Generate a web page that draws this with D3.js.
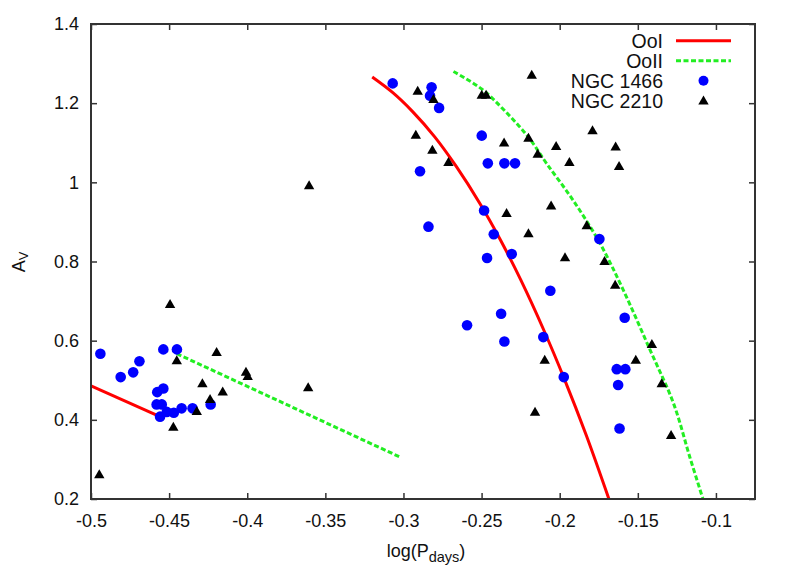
<!DOCTYPE html>
<meta charset="utf-8">
<style>
 body { margin: 0; background: #fff; }
 text { font-family: "Liberation Sans", Arial, sans-serif; fill: #111; }
 .axis path { display: none; }
 .axis line { stroke: #333; stroke-width: 1.5px; }
 .axis text { font-size: 18px; fill: #111; }
 .frame { fill: none; stroke: #333; stroke-width: 2px; }
 .ooI { fill: none; stroke: #ff0000; stroke-width: 3px; }
 .ooII { fill: none; stroke: #22ee22; stroke-width: 3px; stroke-dasharray: 5,2.5; }
</style>
<body>
<script src="https://d3js.org/d3.v7.min.js"></script>
<script>
 // ---- data ----
 // NGC 1466 (blue circles): [logP, A_V]
 var ngc1466 = [
   [-0.494, 0.567], [-0.481, 0.508], [-0.473, 0.520], [-0.469, 0.548],
   [-0.4537, 0.578], [-0.445, 0.578], [-0.4576, 0.470], [-0.4537, 0.479],
   [-0.458, 0.439], [-0.4547, 0.439], [-0.4558, 0.408], [-0.4515, 0.420],
   [-0.447, 0.418], [-0.442, 0.429], [-0.435, 0.429], [-0.4234, 0.439],
   [-0.3069, 1.250], [-0.282, 1.240], [-0.283, 1.219], [-0.2772, 1.188],
   [-0.2894, 1.028], [-0.2499, 1.118], [-0.246, 1.048], [-0.2354, 1.048],
   [-0.2286, 1.048], [-0.2484, 0.929], [-0.284, 0.888], [-0.2422, 0.869],
   [-0.2465, 0.809], [-0.2307, 0.819], [-0.206, 0.726], [-0.2375, 0.668],
   [-0.2593, 0.639], [-0.2354, 0.598], [-0.2105, 0.609], [-0.1974, 0.508],
   [-0.1746, 0.857], [-0.1584, 0.658], [-0.1635, 0.528], [-0.158, 0.528],
   [-0.1626, 0.488], [-0.1617, 0.378]
 ];

 // NGC 2210 (black triangles)
 var ngc2210 = [
   [-0.4494, 0.692], [-0.4451, 0.550], [-0.4947, 0.262], [-0.4196, 0.571],
   [-0.4287, 0.492], [-0.4157, 0.471], [-0.4238, 0.452], [-0.4323, 0.422],
   [-0.4473, 0.382], [-0.4008, 0.521], [-0.3997, 0.510], [-0.3604, 0.992],
   [-0.361, 0.482],
   [-0.2909, 1.231], [-0.2808, 1.210], [-0.2921, 1.120], [-0.2815, 1.082],
   [-0.2712, 1.051], [-0.2499, 1.221], [-0.2471, 1.221], [-0.2179, 1.271],
   [-0.2356, 1.100], [-0.220, 1.112], [-0.2023, 1.091], [-0.2141, 1.072],
   [-0.1938, 1.051], [-0.2055, 0.941], [-0.234, 0.922], [-0.179, 1.131],
   [-0.1642, 1.090], [-0.162, 1.041], [-0.220, 0.871], [-0.1966, 0.810],
   [-0.2096, 0.551], [-0.2158, 0.420], [-0.1827, 0.891], [-0.1713, 0.801],
   [-0.1645, 0.741], [-0.141, 0.591], [-0.1513, 0.551], [-0.1347, 0.492],
   [-0.1287, 0.361]
 ];

 // OoI relation (red, solid): two pieces
 var ooILeft = [[-0.500, 0.486], [-0.458, 0.412]];
 var ooIRight = [
   [-0.320, 1.266], [-0.307, 1.227], [-0.294, 1.178], [-0.280, 1.115],
   [-0.266, 1.039], [-0.251, 0.946], [-0.238, 0.855], [-0.225, 0.754],
   [-0.210, 0.625], [-0.197, 0.503], [-0.183, 0.361], [-0.1685, 0.200]
 ];

 // OoII relation (green, dashed): two pieces
 var ooIILeft = [[-0.4451, 0.567], [-0.3022, 0.306]];
 var ooIIRight = [
   [-0.268, 1.280], [-0.250, 1.236], [-0.235, 1.180], [-0.220, 1.114],
   [-0.2083, 1.047], [-0.1913, 0.954], [-0.1741, 0.845], [-0.1592, 0.727],
   [-0.1421, 0.576], [-0.1272, 0.442], [-0.1165, 0.303], [-0.1083, 0.200]
 ];

 var xTicks = [-0.5, -0.45, -0.4, -0.35, -0.3, -0.25, -0.2, -0.15, -0.1];
 var yTicks = [0.2, 0.4, 0.6, 0.8, 1.0, 1.2, 1.4];
 var legendNames = ["OoI", "OoII", "NGC 1466", "NGC 2210"];

 // ---- layout ----
 var margin = { top: 24, right: 34, bottom: 72, left: 91 },
     width = 789 - margin.left - margin.right,
     height = 571 - margin.top - margin.bottom;

 var svg = d3.select("body").append("svg")
     .attr("width", 789)
     .attr("height", 571)
   .append("g")
     .attr("transform", "translate(" + margin.left + "," + margin.top + ")");

 var x = d3.scaleLinear().domain([-0.5, -0.075]).range([0, width]),
     y = d3.scaleLinear().domain([0.2, 1.4]).range([height, 0]);

 svg.append("clipPath").attr("id", "clip")
   .append("rect").attr("width", width).attr("height", height);

 // axes with inward ticks
 svg.append("g")
     .attr("class", "axis")
     .attr("transform", "translate(0," + height + ")")
     .call(d3.axisBottom(x).tickValues(xTicks).tickSize(-6).tickPadding(15)
       .tickFormat(function (d) { return d3.format("")(+d.toFixed(2)).replace("−", "-"); }));

 svg.append("g")
     .attr("class", "axis")
     .call(d3.axisLeft(y).tickValues(yTicks).tickSize(-6).tickPadding(12)
       .tickFormat(function (d) { return String(+d.toFixed(1)); }));

 svg.append("g")
     .attr("class", "axis")
     .call(d3.axisTop(x).tickValues(xTicks).tickSize(-6).tickFormat(""));

 svg.append("g")
     .attr("class", "axis")
     .attr("transform", "translate(" + width + ",0)")
     .call(d3.axisRight(y).tickValues(yTicks).tickSize(-6).tickFormat(""));

 // relation curves
 var line = d3.line()
     .x(function (d) { return x(d[0]); })
     .y(function (d) { return y(d[1]); });
 var curve = d3.line()
     .curve(d3.curveCatmullRom)
     .x(function (d) { return x(d[0]); })
     .y(function (d) { return y(d[1]); });

 var lines = svg.append("g").attr("clip-path", "url(#clip)");
 lines.append("path").attr("class", "ooI").attr("d", line(ooILeft));
 lines.append("path").attr("class", "ooI").attr("d", curve(ooIRight));
 lines.append("path").attr("class", "ooII").attr("d", line(ooIILeft));
 lines.append("path").attr("class", "ooII").attr("d", curve(ooIIRight));

 // markers
 var tri = "M0,-5.2L5.2,3.8L-5.2,3.8Z";

 svg.selectAll(".dot1466")
     .data(ngc1466)
   .enter().append("circle")
     .attr("class", "dot1466")
     .attr("r", 5.3)
     .attr("cx", function (d) { return x(d[0]); })
     .attr("cy", function (d) { return y(d[1]); })
     .attr("fill", "#0000ff");

 svg.selectAll(".tri2210")
     .data(ngc2210)
   .enter().append("path")
     .attr("class", "tri2210")
     .attr("d", tri)
     .attr("transform", function (d) { return "translate(" + x(d[0]) + "," + y(d[1]) + ")"; })
     .attr("fill", "#000");

 // frame
 svg.append("rect")
     .attr("class", "frame")
     .attr("width", width)
     .attr("height", height);

 // legend (top right, inside plot)
 var legend = svg.append("g")
     .attr("transform", "translate(" + (663 - margin.left) + "," + (40.7 - margin.top) + ")");

 legend.selectAll("text")
     .data(legendNames)
   .enter().append("text")
     .attr("x", 0)
     .attr("y", function (d, i) { return i * 20 + 7; })
     .attr("text-anchor", "end")
     .style("font-size", "19.5px")
     .text(function (d) { return d; });

 legend.append("line").attr("class", "ooI")
     .attr("x1", 13).attr("x2", 68).attr("y1", 0).attr("y2", 0);
 legend.append("line").attr("class", "ooII")
     .attr("x1", 13).attr("x2", 68).attr("y1", 20).attr("y2", 20);
 legend.append("circle")
     .attr("cx", 40.5).attr("cy", 40).attr("r", 5)
     .attr("fill", "#0000ff");
 legend.append("path")
     .attr("d", tri)
     .attr("transform", "translate(40.5,60)")
     .attr("fill", "#000");

 // axis titles
 var xt = svg.append("text")
     .attr("x", width / 2 + 3)
     .attr("y", 556.5 - margin.top)
     .attr("text-anchor", "middle")
     .style("font-size", "18px");
 xt.append("tspan").text("log(P");
 xt.append("tspan").attr("dy", 5).style("font-size", "14.5px").text("days");
 xt.append("tspan").attr("dy", -5).text(")");

 var yt = svg.append("text")
     .attr("transform", "translate(" + (25 - margin.left) + "," + (262 - margin.top) + ") rotate(-90)")
     .attr("text-anchor", "middle")
     .style("font-size", "18px");
 yt.append("tspan").text("A");
 yt.append("tspan").attr("dy", 3).style("font-size", "13px").text("V");
</script>
</body>
